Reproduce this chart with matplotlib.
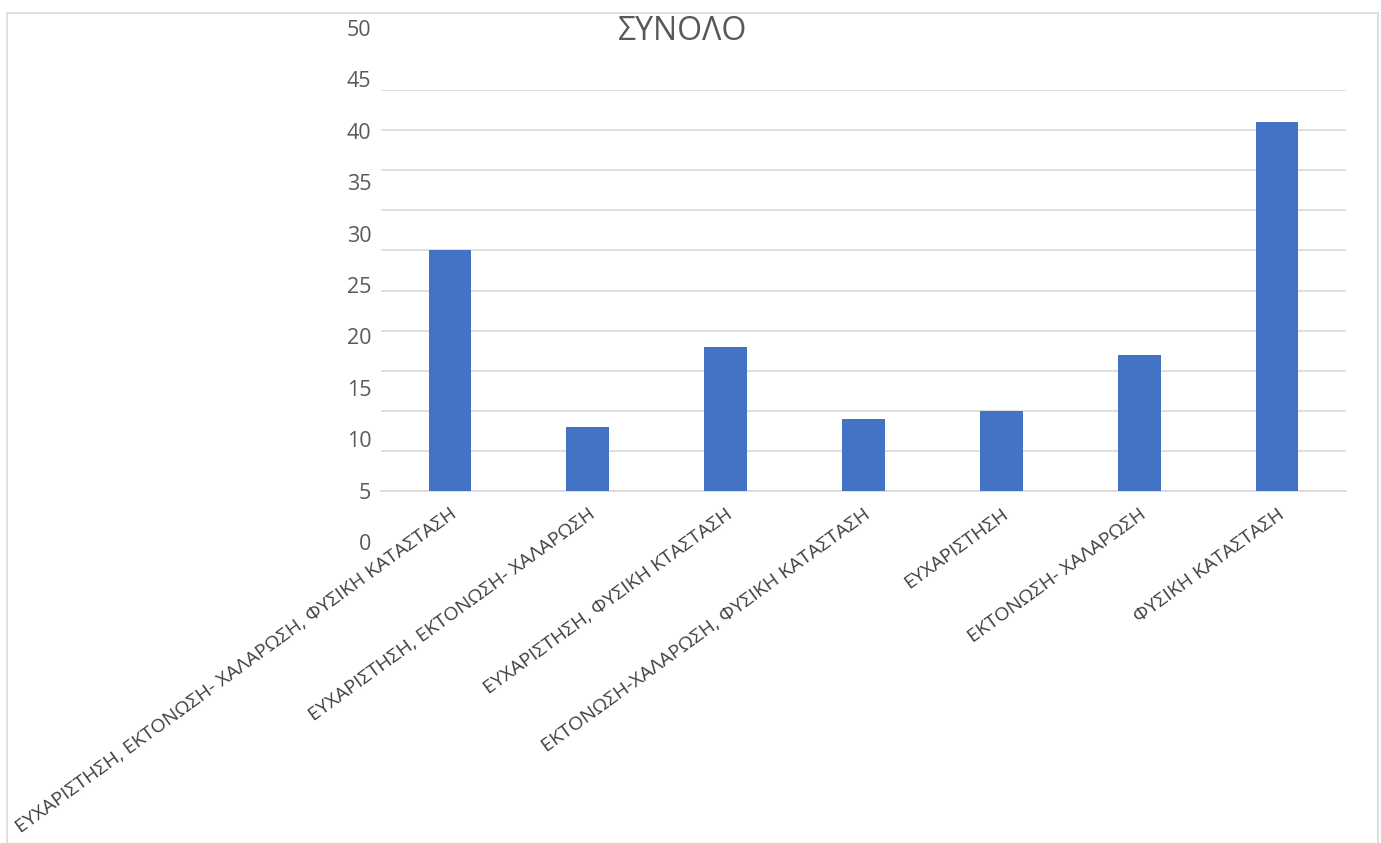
import matplotlib
matplotlib.use("Agg")
import matplotlib.pyplot as plt
from matplotlib.patches import Rectangle

plt.rcParams['font.family'] = ['Open Sans', 'DejaVu Sans']

# κατηγορίες και πλήθος απαντήσεων
categories = [
    'ΕΥΧΑΡΙΣΤΗΣΗ, ΕΚΤΟΝΩΣΗ- ΧΑΛΑΡΩΣΗ, ΦΥΣΙΚΗ ΚΑΤΑΣΤΑΣΗ',
    'ΕΥΧΑΡΙΣΤΗΣΗ, ΕΚΤΟΝΩΣΗ- ΧΑΛΑΡΩΣΗ',
    'ΕΥΧΑΡΙΣΤΗΣΗ, ΦΥΣΙΚΗ ΚΤΑΣΤΑΣΗ',
    'ΕΚΤΟΝΩΣΗ-ΧΑΛΑΡΩΣΗ, ΦΥΣΙΚΗ ΚΑΤΑΣΤΑΣΗ',
    'ΕΥΧΑΡΙΣΤΗΣΗ',
    'ΕΚΤΟΝΩΣΗ- ΧΑΛΑΡΩΣΗ',
    'ΦΥΣΙΚΗ ΚΑΤΑΣΤΑΣΗ',
]
values = [30, 8, 18, 9, 10, 17, 46]
y_ticks = list(range(0, 55, 5))
title = 'ΣΥΝΟΛΟ'

bar_color = '#4472C4'
grid_color = '#d9d9d9'
text_color = '#595959'

W, H = 1381, 843
fig = plt.figure(figsize=(W / 100, H / 100), dpi=100)

# πλαίσιο γραφήματος
fig.patches.append(Rectangle((7 / W, -0.01), (1378 - 7) / W, 1.01 - 13 / H,
                             transform=fig.transFigure, fill=False,
                             edgecolor=grid_color, linewidth=1.2))

ax = fig.add_axes([381 / W, (H - 491) / H, (1346 - 381) / W, (491 - 90) / H])
x = list(range(len(categories)))
ax.bar(x, values, width=0.31, color=bar_color, zorder=3)
ax.set_xlim(-0.5, len(categories) - 0.5)
ax.set_ylim(0, 50)
ax.set_yticks(y_ticks)
ax.set_yticklabels([])
ax.yaxis.grid(True, color=grid_color, linewidth=1.2, zorder=0)
ax.tick_params(axis='both', length=0)
for s in ['left', 'right', 'top']:
    ax.spines[s].set_visible(False)
ax.spines['bottom'].set_color(grid_color)
ax.spines['bottom'].set_linewidth(1.2)

ax.set_xticks(x)
ax.set_xticklabels(categories, rotation=36, ha='right', va='top',
                   rotation_mode='anchor', fontsize=14, color='#404040')
ax.tick_params(axis='x', pad=10)

# ετικέτες άξονα y
lab = fig.add_axes([381 / W, (H - 542) / H, 0.001, (542 - 28) / H])
lab.set_ylim(0, 50)
lab.set_yticks(y_ticks)
lab.set_yticklabels([str(v) for v in y_ticks], fontsize=15.5, color=text_color)
lab.set_xticks([])
lab.tick_params(axis='y', length=0, pad=7)
for s in lab.spines.values():
    s.set_visible(False)
lab.patch.set_alpha(0)

fig.text(683 / W, 1 - 32 / H, title, ha='center', va='center',
         fontsize=23, color=text_color)

fig.savefig('out.png', dpi=100)
